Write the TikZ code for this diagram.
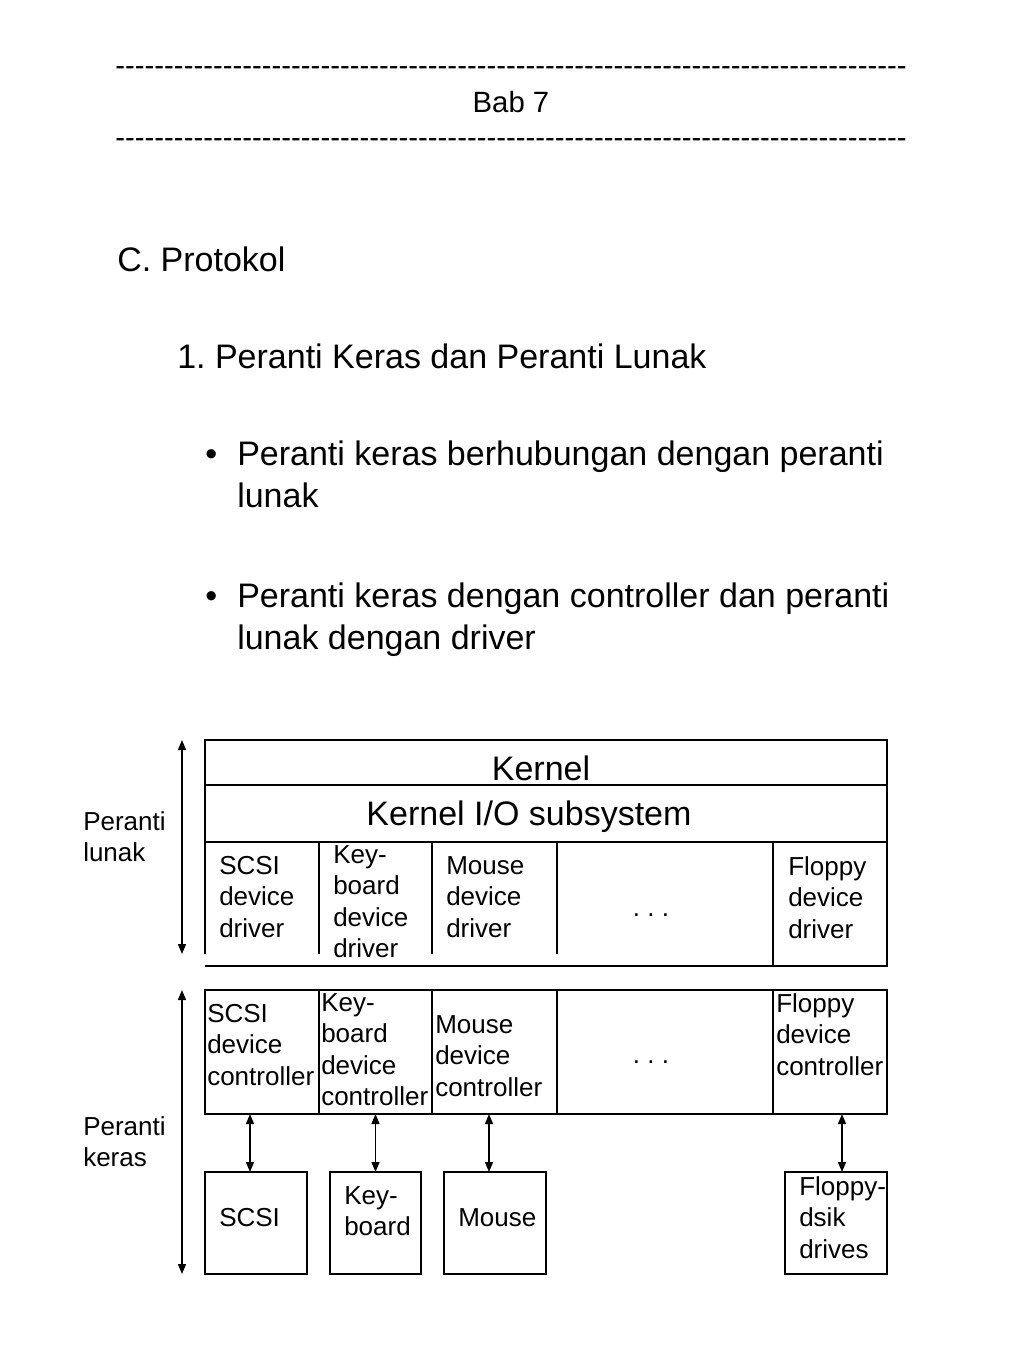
\documentclass[tikz,border=0pt]{standalone}
\usepackage{fontspec}
\setmainfont{Liberation Sans}
\usetikzlibrary{positioning,arrows.meta}
\frenchspacing
\tikzset{bigtext/.style={font=\fontsize{25.5}{31.5}\selectfont, inner sep=0pt, align=left}}
\tikzset{celltext/.style={font=\fontsize{19.5}{23.6}\selectfont, inner sep=0pt, align=left, anchor=north west}}
\tikzset{headtext/.style={font=\fontsize{22}{26}\selectfont, inner sep=0pt, anchor=base}}
\tikzset{ctlbox/.style={rectangle, draw, line width=1pt, outer sep=0pt, minimum height=93pt}}
\tikzset{devbox/.style={rectangle, draw, line width=1pt, outer sep=0pt, minimum width=76.5pt, minimum height=76.5pt}}
\tikzset{dblarrow/.style={{Triangle[length=7.5pt,width=6pt]}-{Triangle[length=7.5pt,width=6pt]}, line width=1pt}}
\newcommand{\hyrule}{\foreach \i in {1,...,81}{-\kern0pt}}

\begin{document}
\begin{tikzpicture}[x=0.75pt,y=-0.75pt]
  \fill[white] (0,0) rectangle (1024,1365);
  \useasboundingbox (0,0) rectangle (1024,1365);
  % header
  \node[headtext] (rule1) at (511,75) {\hyrule};
  \node[headtext] (bab) at (511,112) {Bab 7};
  \node[headtext] (rule2) at (511,147) {\hyrule};
  % text
  \node[bigtext, anchor=base west] (sec) at (117,271) {C. Protokol};
  \node[bigtext, anchor=base west] (sub) at (177,368) {1. Peranti Keras dan Peranti Lunak};
  \node[bigtext, anchor=base west] (dot1) at (205,465) {\textbullet};
  \node[bigtext, anchor=north west] (pt1) at (237,441) {Peranti keras berhubungan dengan peranti\\lunak};
  \node[bigtext, anchor=base west] (dot2) at (205,607) {\textbullet};
  \node[bigtext, anchor=north west] (pt2) at (237,583) {Peranti keras dengan controller dan peranti\\lunak dengan driver};
  % software block
  \draw[line width=1pt] (205,954) -- (205,740) -- (887,740) -- (887,966) -- (205,966);
  \draw[line width=1pt] (205,785) -- (887,785) (205,842) -- (887,842);
  \foreach \x in {319,432,557} \draw[line width=1pt] (\x,842) -- (\x,954);
  \draw[line width=1pt] (773,842) -- (773,966);
  \node[bigtext, anchor=base] (kernel) at (541,780) {Kernel};
  \node[bigtext, anchor=base] (kio) at (529,825) {Kernel I/O subsystem};
  \node[celltext] (scsidrv) at (219,856) {SCSI\\device\\driver};
  \node[celltext] (keydrv) at (333,845) {Key-\\board\\device\\driver};
  \node[celltext] (mousedrv) at (446,856) {Mouse\\device\\driver};
  \node[celltext, anchor=base] (dotsdrv) at (651,916) {. . .};
  \node[celltext] (flopdrv) at (788,856) {Floppy\\device\\driver};
  % controllers
  \node[ctlbox, minimum width=85.5pt] (scsictl) at (262,1052) {};
  \node[ctlbox, minimum width=84.75pt, right=0pt of scsictl] (keyctl) {};
  \node[ctlbox, minimum width=93.75pt, right=0pt of keyctl] (mousectl) {};
  \node[ctlbox, minimum width=162pt, right=0pt of mousectl] (dotsctl) {};
  \node[ctlbox, minimum width=85.5pt, right=0pt of dotsctl] (flopctl) {};
  \node[celltext] (scsictltxt) at (207,1004) {SCSI\\device\\controller};
  \node[celltext] (keyctltxt) at (321,993) {Key-\\board\\device\\controller};
  \node[celltext] (mousectltxt) at (435,1015) {Mouse\\device\\controller};
  \node[celltext, anchor=base] (dotsctltxt) at (651,1063) {. . .};
  \node[celltext] (flopctltxt) at (776,993) {Floppy\\device\\controller};
  % devices
  \node[devbox] (scsi) at (256,1223) {};
  \node[devbox, minimum width=68.25pt] (kbd) at (375.5,1223) {};
  \node[devbox] (mouse) at (495,1223) {};
  \node[devbox] (floppy) at (836,1223) {};
  \node[celltext] (scsitxt) at (219,1208) {SCSI};
  \node[celltext] (kbdtxt) at (344,1186) {Key-\\board};
  \node[celltext] (mousetxt) at (458,1208) {Mouse};
  \node[celltext] (floppytxt) at (799,1176) {Floppy-\\dsik\\drives};
  \draw[dblarrow] ([xshift=-4.5pt]scsi.north) -- ([xshift=-4.5pt]scsi.north |- scsictl.south);
  \draw[dblarrow] (kbd.north) -- (kbd.north |- keyctl.south);
  \draw[dblarrow] ([xshift=-4.5pt]mouse.north) -- ([xshift=-4.5pt]mouse.north |- mousectl.south);
  \draw[dblarrow] ([xshift=4.5pt]floppy.north) -- ([xshift=4.5pt]floppy.north |- flopctl.south);
  % side arrows
  \coordinate (lunaktop) at (182,740);
  \coordinate (lunakbot) at (182,954);
  \coordinate (kerastop) at (182,990);
  \coordinate (kerasbot) at (182,1274);
  \draw[dblarrow] (lunaktop) -- (lunakbot);
  \draw[dblarrow] (kerastop) -- (kerasbot);
  \node[celltext] (lunak) at (83,811) {Peranti\\lunak};
  \node[celltext] (keras) at (83,1116) {Peranti\\keras};
\end{tikzpicture}
\end{document}
